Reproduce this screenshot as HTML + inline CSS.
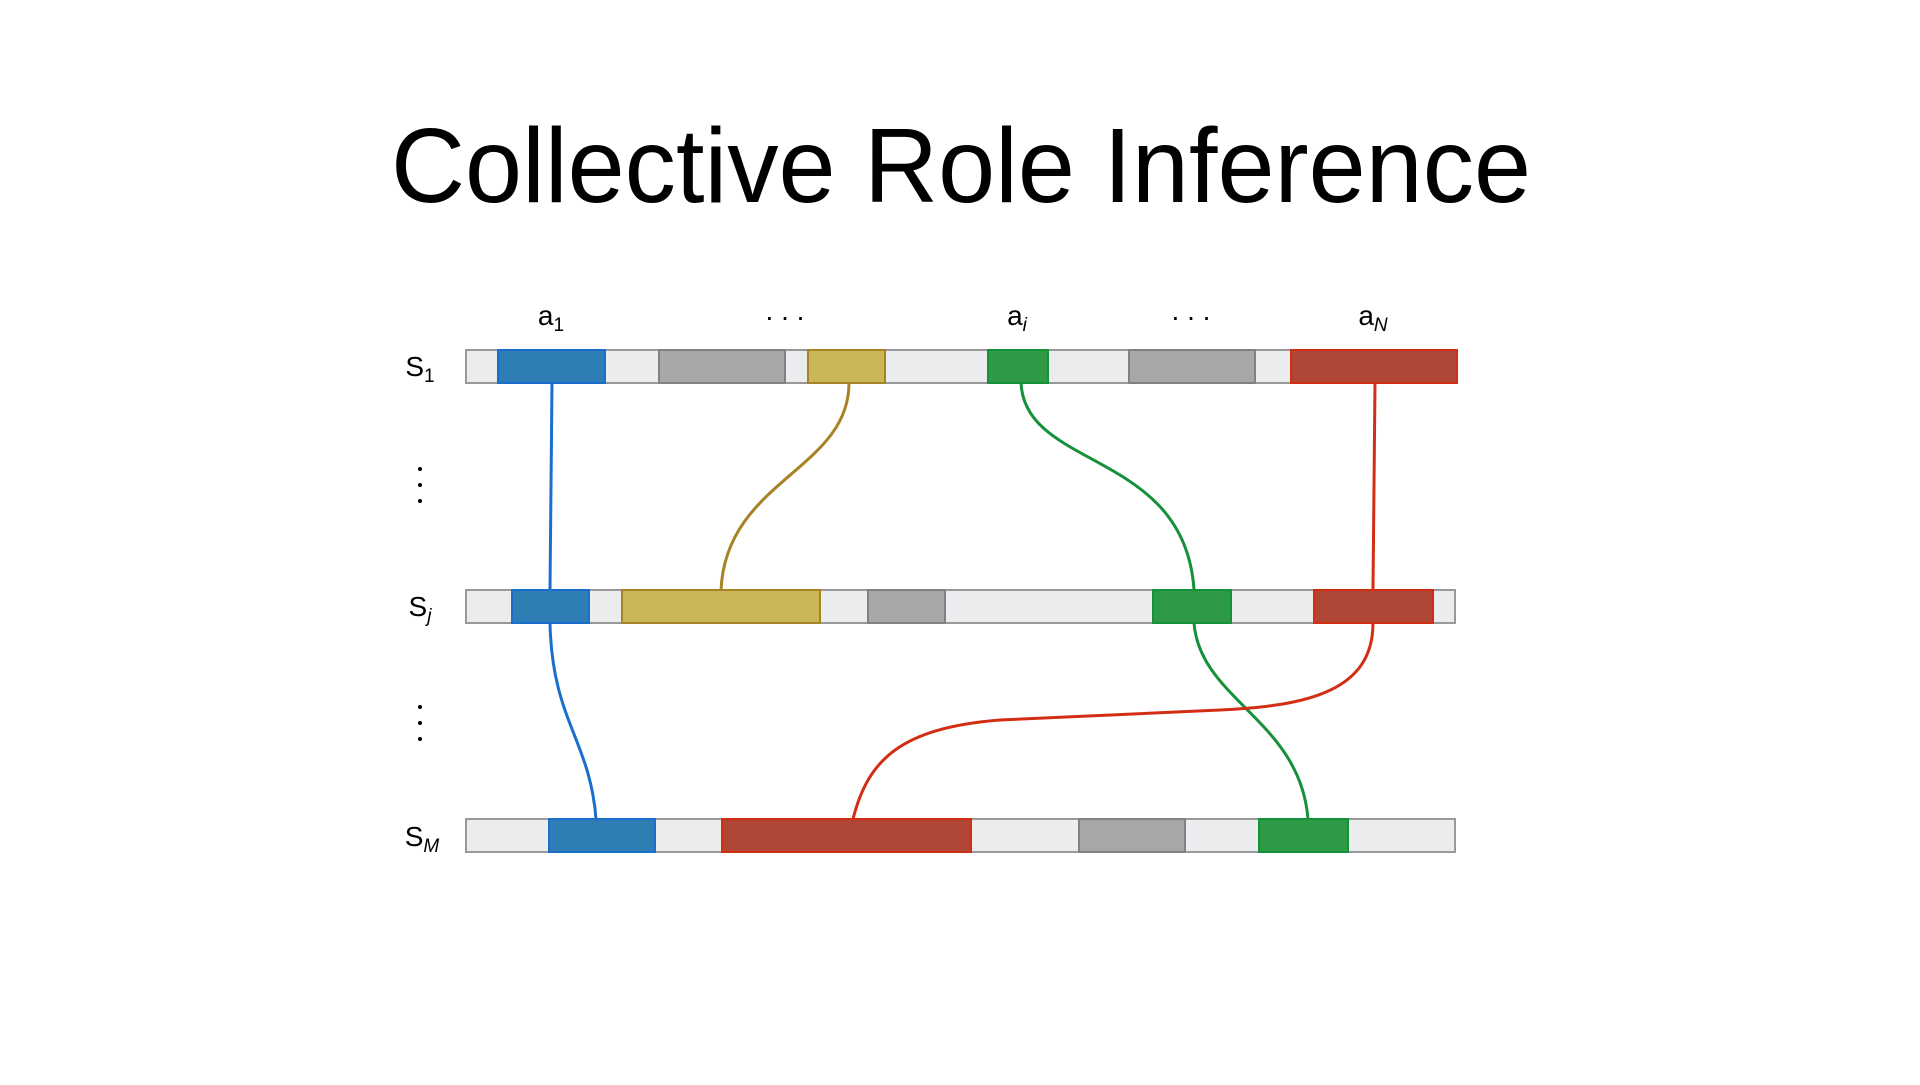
<!DOCTYPE html>
<html><head><meta charset="utf-8"><style>html,body{margin:0;padding:0;background:#fff}</style></head>
<body>
<svg width="1920" height="1080" viewBox="0 0 1920 1080" xmlns="http://www.w3.org/2000/svg" font-family="Liberation Sans, sans-serif">
<text x="961" y="202" font-size="106" text-anchor="middle" textLength="1140" lengthAdjust="spacingAndGlyphs" fill="#000">Collective Role Inference</text>
<g font-size="28" fill="#000" text-anchor="middle">
<text x="551" y="325">a<tspan font-size="19" dy="6">1</tspan></text>
<text x="785" y="320">. . .</text>
<text x="1017" y="325">a<tspan font-size="19" dy="6" font-style="italic">i</tspan></text>
<text x="1191" y="320">. . .</text>
<text x="1373" y="325">a<tspan font-size="19" dy="6" font-style="italic">N</tspan></text>
<text x="420" y="376">S<tspan font-size="19" dy="6">1</tspan></text>
<text x="420" y="616">S<tspan font-size="19" dy="6" font-style="italic">j</tspan></text>
<text x="422" y="846">S<tspan font-size="19" dy="6" font-style="italic">M</tspan></text>
</g>
<g fill="#000">
<circle cx="420" cy="469" r="2"/><circle cx="420" cy="485" r="2"/><circle cx="420" cy="501" r="2"/>
<circle cx="420" cy="707" r="2"/><circle cx="420" cy="723" r="2"/><circle cx="420" cy="739" r="2"/>
</g>
<g stroke-width="2">
<rect x="466" y="350" width="991" height="33" fill="#ebecee" stroke="#999"/>
<rect x="498" y="350" width="107" height="33" fill="#2f7db5" stroke="#1a6fcc"/>
<rect x="659" y="350" width="126" height="33" fill="#a5a8a7" stroke="#808285"/>
<rect x="808" y="350" width="77" height="33" fill="#c9b85a" stroke="#a88326"/>
<rect x="988" y="350" width="60" height="33" fill="#2f9a45" stroke="#15913a"/>
<rect x="1129" y="350" width="126" height="33" fill="#a5a8a7" stroke="#808285"/>
<rect x="1291" y="350" width="166" height="33" fill="#b04636" stroke="#d22e14"/>

<rect x="466" y="590" width="989" height="33" fill="#ebecee" stroke="#999"/>
<rect x="512" y="590" width="77" height="33" fill="#2f7db5" stroke="#1a6fcc"/>
<rect x="622" y="590" width="198" height="33" fill="#c9b85a" stroke="#a88326"/>
<rect x="868" y="590" width="77" height="33" fill="#a5a8a7" stroke="#808285"/>
<rect x="1153" y="590" width="78" height="33" fill="#2f9a45" stroke="#15913a"/>
<rect x="1314" y="590" width="119" height="33" fill="#b04636" stroke="#d22e14"/>

<rect x="466" y="819" width="989" height="33" fill="#ebecee" stroke="#999"/>
<rect x="549" y="819" width="106" height="33" fill="#2f7db5" stroke="#1a6fcc"/>
<rect x="722" y="819" width="249" height="33" fill="#b04636" stroke="#d22e14"/>
<rect x="1079" y="819" width="106" height="33" fill="#a5a8a7" stroke="#808285"/>
<rect x="1259" y="819" width="89" height="33" fill="#2f9a45" stroke="#15913a"/>
</g>
<g fill="none" stroke-width="3">
<path d="M552,383 L550,590" stroke="#1a6fcc"/>
<path d="M550,623 C552,720 590,740 596,819" stroke="#1a6fcc"/>
<path d="M849,383 C849,470 726,480 721,590" stroke="#a88326"/>
<path d="M1021,383 C1025,470 1185,450 1194,590" stroke="#15913a"/>
<path d="M1194,623 C1200,700 1300,720 1308,819" stroke="#15913a"/>
<path d="M1375,383 L1373,590" stroke="#d22e14"/>
<path d="M1373,623 C1373,690 1310,706 1220,710 L1000,720 C900,728 868,760 853,819" stroke="#d22e14"/>
</g>
</svg>
</body></html>
